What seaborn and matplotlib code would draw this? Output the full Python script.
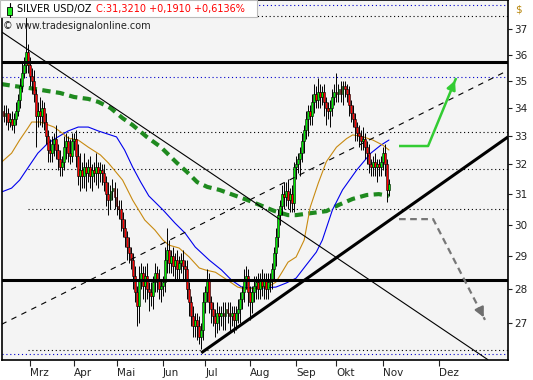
import numpy as np
import pandas as pd
import seaborn as sns
import matplotlib
matplotlib.use("Agg")
import matplotlib.pyplot as plt
from matplotlib.patches import Rectangle
from matplotlib.lines import Line2D
from matplotlib.ticker import NullLocator

# daily closes, one per trading day from 13 Feb 2012
close = [33.7, 33.8, 33.5, 33.6, 33.4, 33.6, 33.9, 34.3, 34.8, 35.3,
         35.6, 36.1, 35.6, 35.2, 35.0, 34.5, 33.7, 33.9, 33.7, 34.0,
         33.5, 33.0, 32.5, 32.4, 32.7, 32.9, 32.5, 32.2, 31.9, 32.1,
         32.6, 32.8, 32.4, 32.3, 32.8, 32.9, 32.3, 31.6, 31.8, 31.6,
         31.9, 31.7, 31.9, 31.6, 31.8, 31.7, 31.9, 31.7, 31.8, 31.7,
         31.4, 31.0, 30.8, 31.1, 31.2, 30.9, 30.6, 30.5, 30.2, 29.9,
         29.6, 29.3, 29.1, 28.9, 28.4, 27.9, 27.5, 28.3, 28.5, 28.1,
         28.4, 28.0, 27.9, 27.8, 28.2, 28.5, 28.3, 28.0, 28.1, 28.2,
         28.9, 29.2, 28.8, 29.0, 28.7, 28.9, 28.6, 28.8, 28.9, 28.7,
         28.6, 28.0, 27.6, 27.2, 26.9, 27.1, 26.9, 26.6, 26.8, 27.6,
         27.9, 28.3, 27.6, 27.4, 27.2, 27.0, 27.3, 27.2, 27.3, 27.2,
         27.4, 27.3, 27.2, 27.3, 27.1, 27.3, 27.4, 27.7, 27.9, 28.3,
         28.4, 27.9, 27.6, 27.9, 28.1, 28.2, 28.0, 28.3, 28.1, 28.3,
         28.0, 28.2, 28.3, 28.6, 29.1, 29.6, 30.3, 30.6, 31.0, 30.9,
         31.1, 30.8, 31.0, 30.7, 31.9, 32.0, 32.2, 32.4, 32.8, 33.2,
         33.6, 33.9, 33.7, 34.2, 34.5, 34.3, 34.6, 34.4, 34.6, 34.2,
         34.0, 33.9, 34.0, 34.4, 34.6, 34.5, 34.7, 34.5, 34.8, 34.7,
         34.5, 34.1, 33.8, 33.6, 33.3, 33.1, 33.0, 32.8, 32.9, 32.6,
         32.4, 32.0, 31.9, 32.1, 31.9, 32.0, 31.9, 32.1, 32.4, 32.0,
         31.13, 31.321]
first_open = 33.9

# wick lengths above / below the candle body
wick_up = [.2, .3, .2, .2, .3, .2, .3, .2, .3, .4,
           .3, 1.5, .3, .3, .3, .4, .2, .3, .5, .3,
           .2, .3, .2, .4, .3, .2, .5, .2, .3, .2,
           .4, .3, .2, .5, .3, .2, .3, .4, .6, .3,
           .5, .2, .3, .4, .2, .3, .5, .2, .3, .2,
           .3, .2, .4, .2, .3, .2, .3, .2, .3, .2,
           .3, .2, .3, .2, .2, .3, .2, .4, .3, .2,
           .3, .4, .2, .3, .2, .3, .2, .3, .2, .2,
           .4, .7, .3, .2, .3, .2, .3, .2, .2, .3,
           .2, .3, .2, .2, .3, .2, .2, .3, .2, .3,
           .2, .3, .2, .2, .2, .2, .3, .2, .2, .3,
           .2, .2, .3, .2, .2, .2, .3, .2, .2, .3,
           .3, .2, .2, .2, .3, .2, .3, .2, .3, .2,
           .2, .3, .2, .2, .2, .3, .2, .2, .3, .4,
           .3, .4, .2, .3, .2, .3, .2, .2, .3, .2,
           .3, .2, .2, .3, .4, .3, .5, .3, .2, .3,
           .2, .2, .3, .3, .3, .7, .2, .3, .2, .2,
           .2, .3, .2, .3, .2, .2, .3, .2, .4, .2,
           .2, .3, .2, .2, .3, .2, .2, .2, .2, .3,
           .2, .2]
wick_dn = [.2, .3, .3, .2, .2, .3, .2, .2, .3, .2,
           .2, .3, .3, .4, .5, .3, 1.1, .4, .3, .4,
           .3, .3, .4, .3, .3, .4, .3, .4, .3, .3,
           .3, .4, .3, .3, .2, .3, .4, .3, .5, .4,
           .4, .6, .3, .4, .5, .3, .4, .5, .3, .4,
           .3, .4, .5, .3, .3, .4, .3, .3, .4, .3,
           .3, .4, .3, .3, .4, .3, .6, .5, .3, .4,
           .5, .3, .55, .3, .4, .3, .4, .3, .4, .3,
           .3, .4, .3, .3, .3, .4, .3, .3, .3, .4,
           .3, .3, .4, .3, .3, .3, .4, .2, .35, .3,
           .3, .3, .3, .4, .3, .4, .3, .4, .3, .4,
           .4, .3, .5, .3, .4, .3, .3, .4, .3, .3,
           .3, .4, .5, .3, .3, .4, .3, .3, .3, .4,
           .3, .3, .3, .3, .3, .4, .3, .3, .3, .4,
           .3, .3, .4, .3, .3, .4, .3, .6, .3, .4,
           .3, .6, .3, .3, .4, .3, .3, .4, .3, .5,
           .6, .3, .6, .3, .3, .3, .3, .3, .4, .3,
           .3, .4, .3, .3, .5, .3, .4, .3, .3, .4,
           .4, .3, .3, .3, .3, .5, .3, .3, .3, .4,
           .4, .2]

# moving averages (trading-day index, price)
ma200_idx = [-1, 5, 13, 22, 28, 35, 42, 47, 53, 59, 64, 71, 78, 86, 91, 96, 101, 107, 114, 121,
             127, 134, 141, 145, 153, 160, 166, 173, 180, 186, 191]
ma200 = [34.88, 34.81, 34.73, 34.62, 34.55, 34.40, 34.33, 34.22, 34.00, 33.63, 33.38, 32.96, 32.60,
         32.05, 31.74, 31.40, 31.24, 31.14, 30.97, 30.80, 30.64, 30.45, 30.31, 30.31, 30.38, 30.44,
         30.64, 30.84, 30.97, 31.00, 30.94]
ma50_idx = [-1, 4, 8, 13, 17, 22, 27, 32, 37, 42, 47, 56, 60, 64, 68, 72, 79, 85, 90, 95,
            102, 108, 113, 118, 123, 128, 135, 140, 145, 150, 155, 158, 163, 168, 175, 182, 187, 191]
ma50 = [31.07, 31.20, 31.47, 31.98, 32.39, 32.74, 32.96, 33.17, 33.31, 33.31, 33.17, 32.96, 32.50,
        31.91, 31.40, 30.94, 30.48, 30.05, 29.73, 29.29, 28.88, 28.58, 28.27, 28.06, 28.03, 28.03,
        28.06, 28.18, 28.33, 28.73, 29.13, 29.51, 30.48, 31.14, 31.81, 32.39, 32.67, 32.85]
ma20_idx = [-1, 4, 8, 12, 14, 18, 21, 25, 29, 32, 37, 42, 48, 52, 59, 64, 70, 75, 79, 82,
            87, 92, 97, 100, 105, 111, 116, 120, 125, 131, 135, 138, 141, 145, 149, 152, 156, 160,
            165, 170, 173, 177, 183, 188, 191]
ma20 = [32.08, 32.39, 32.85, 33.27, 33.49, 33.49, 33.42, 33.31, 33.10, 32.92, 32.85, 32.60, 32.33,
        32.05, 31.47, 30.80, 30.15, 29.83, 29.51, 29.35, 29.26, 28.98, 28.64, 28.58, 28.51, 28.27,
        28.06, 28.00, 28.03, 28.06, 28.21, 28.51, 28.82, 28.98, 29.51, 30.57, 31.37, 32.10, 32.60,
        32.90, 33.03, 32.99, 32.85, 32.67, 32.50]

# drawn trend lines and levels
down_trend = ([-1, 240], [36.89, 25.96])
up_channel = ([-1, 248], [26.96, 35.32])
support = ([98, 250], [26.15, 32.96])
thick_levels = [35.71, 28.27]
dotted_levels = [37.52, 33.15, 31.84, 30.51, 26.23]
blue_levels = [37.98, 35.14, 26.12]
bull_path = ([196, 210.4, 224.3], [32.64, 32.64, 35.11])
bear_path = ([196, 212.9, 238.6], [30.18, 30.18, 27.09])

y_ticks = [27, 28, 29, 30, 31, 32, 33, 34, 35, 36, 37]
month_labels = ["Mrz", "Apr", "Mai", "Jun", "Jul", "Aug", "Sep", "Okt", "Nov", "Dez"]

sns.set_style("white")
plt.rcParams['font.family'] = ['DejaVu Sans']

fig = plt.figure(figsize=(5.33, 3.80), dpi=100)
ax = fig.add_axes([1.5 / 533, 20 / 380, 506.5 / 533, 360 / 380])
ax.set_facecolor('#f4f4f4')
ax.set_yscale('log')
ax.set_xlim(-1, 250)
ax.set_ylim(25.95, 38.17)

# history on trading days, the empty future on calendar days
hist_dates = pd.bdate_range('2012-02-13', periods=len(close))
future_dates = pd.date_range(hist_dates[-1] + pd.Timedelta(days=1), periods=60, freq='D')
all_dates = hist_dates.append(future_dates)
month_pos = [int(np.argmax(all_dates.month == m)) for m in range(3, 13)]

# levels
for lv in blue_levels:
    ax.plot([-1, 250], [lv, lv], color='#0000cc', lw=0.8, ls=(0, (1, 2.5)), zorder=1)
for lv in dotted_levels:
    ax.plot([12, 250], [lv, lv], color='black', lw=0.8, ls=(0, (1, 2.5)), zorder=1)
for lv in thick_levels:
    ax.plot([-1, 250], [lv, lv], color='black', lw=2.2, zorder=5)

ax.plot(*down_trend, color='black', lw=0.8, zorder=5)
ax.plot(*up_channel, color='black', lw=0.8, ls=(0, (5, 5)), zorder=5)
ax.plot(*support, color='black', lw=2.2, zorder=5, solid_capstyle='butt')

# moving averages
sns.lineplot(x=ma200_idx, y=ma200, ax=ax, color='#1f8a1f', lw=3.0,
             linestyle=(0, (2, 1.3)), zorder=2)
sns.lineplot(x=ma50_idx, y=ma50, ax=ax, color='#0000ee', lw=0.8, zorder=2)
sns.lineplot(x=ma20_idx, y=ma20, ax=ax, color='#c88a10', lw=0.8, zorder=2)

# candles
idx = np.arange(len(close))
opens = [first_open] + close[:-1]
top = [max(o, c) for o, c in zip(opens, close)]
bot = [min(o, c) for o, c in zip(opens, close)]
highs = [t + u for t, u in zip(top, wick_up)]
lows = [b - d for b, d in zip(bot, wick_dn)]
body = [max(t - b, 0.03) for t, b in zip(top, bot)]
cols = ['#00ee00' if c >= o else '#ff0000' for o, c in zip(opens, close)]
ax.vlines(idx, lows, highs, color='black', lw=0.7, zorder=3)
ax.bar(idx, body, bottom=bot, width=0.95, color=cols, edgecolor='black', linewidth=0.4, zorder=4)

# scenario arrows
ax.plot(bull_path[0], bull_path[1], color='#33cc33', lw=1.8, zorder=6, solid_capstyle='butt')
ax.annotate('', xy=(bull_path[0][-1], bull_path[1][-1]),
            xytext=(bull_path[0][-2] + 0.8 * (bull_path[0][-1] - bull_path[0][-2]),
                    bull_path[1][-2] + 0.8 * (bull_path[1][-1] - bull_path[1][-2])),
            arrowprops=dict(arrowstyle='-|>', color='#33cc33', lw=1.8, mutation_scale=13), zorder=6)
ax.plot(bear_path[0], bear_path[1], color='#777777', lw=1.6, ls=(0, (3, 2)), zorder=6)
ax.annotate('', xy=(bear_path[0][-1], bear_path[1][-1]),
            xytext=(bear_path[0][-2] + 0.9 * (bear_path[0][-1] - bear_path[0][-2]),
                    bear_path[1][-2] + 0.9 * (bear_path[1][-1] - bear_path[1][-2])),
            arrowprops=dict(arrowstyle='-|>', color='#6e6e6e', lw=1.6, mutation_scale=14), zorder=6)

# axes styling
ax.set_yticks(y_ticks, labels=[str(t) for t in y_ticks])
ax.yaxis.set_minor_locator(NullLocator())
ax.yaxis.tick_right()
ax.tick_params(axis='y', direction='out', length=3, width=0.8, pad=1.5, labelsize=7.5,
               colors='#222222', right=True, left=False)
ax.set_xticks(month_pos, labels=month_labels)
for lab in ax.get_xticklabels():
    lab.set_ha('left')
ax.tick_params(axis='x', direction='out', length=4, width=0.8, pad=2, labelsize=7.5,
               colors='#222222', bottom=True)
ax.set_xlabel('')
ax.set_ylabel('')
for sp in ax.spines.values():
    sp.set_visible(True)
    sp.set_color('black')
    sp.set_linewidth(1.2)

# header
fig.patches.append(Rectangle((0, 1 - 17 / 380), 257 / 533, 17 / 380, transform=fig.transFigure,
                             facecolor='white', edgecolor='#bbbbbb', lw=0.8, zorder=5))
fig.lines.append(Line2D([9.5 / 533, 9.5 / 533], [1 - 3 / 380, 1 - 17 / 380], color='black',
                        lw=0.8, transform=fig.transFigure, zorder=6))
fig.patches.append(Rectangle((7 / 533, 1 - 15 / 380), 5 / 533, 8 / 380, transform=fig.transFigure,
                             facecolor='#22ee22', edgecolor='black', lw=0.6, zorder=7))
fig.text(17 / 533, 1 - 9 / 380, 'SILVER USD/OZ', fontsize=7, color='black', va='center', zorder=8)
fig.text(96 / 533, 1 - 9 / 380, 'C:31,3210 +0,1910 +0,6136%', fontsize=7, color='#ff0000',
         va='center', zorder=8)
fig.text(3 / 533, 1 - 26 / 380, '\u00a9 www.tradesignalonline.com', fontsize=7, color='#222222',
         va='center', zorder=8)
fig.text(515 / 533, 1 - 9 / 380, '$', fontsize=7.5, color='#b8860b', va='center')

fig.savefig('out.png', dpi=100)
